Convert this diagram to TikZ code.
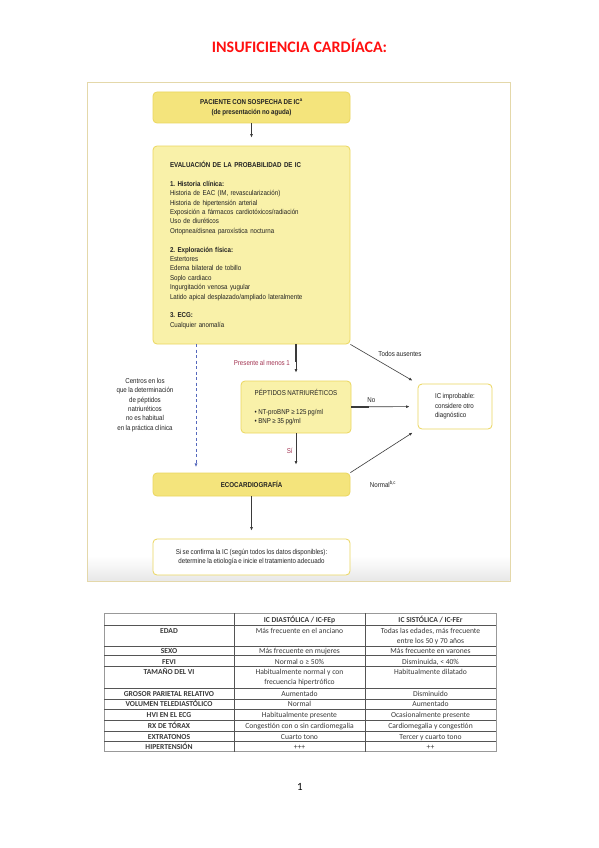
\documentclass[tikz,border=0pt]{standalone}
\usepackage{fontspec}
\setmainfont{Carlito}
\newfontfamily\flowfont[FakeStretch=0.87, WordSpace=0.85]{Liberation Sans}
\usetikzlibrary{arrows.meta}
\frenchspacing
\definecolor{titlered}{HTML}{FF1010}
\definecolor{boxyellow}{HTML}{F4E47C}
\definecolor{boxpale}{HTML}{F9F1A9}
\definecolor{boxedge}{HTML}{EBD65E}
\definecolor{framecol}{HTML}{E4D8AA}
\definecolor{arrowgray}{HTML}{3A3A3A}
\definecolor{labelred}{HTML}{A33452}
\definecolor{dashblue}{HTML}{5568BC}
\definecolor{flowtext}{HTML}{222222}
\definecolor{tabtext}{HTML}{3A3A3A}
\definecolor{tabrule}{HTML}{555555}
\newcommand{\flowtxt}{\flowfont\fontsize{7.1}{9.4}\selectfont}
\newcommand{\tabtxt}{\fontsize{7.6}{10}\selectfont}
\begin{document}
\begin{tikzpicture}[x=1pt, y=-1pt,
    box/.style={draw=boxedge, rounded corners=4pt, line width=0.8pt, inner sep=0pt, text=flowtext, font=\flowtxt},
    arr/.style={-{Latex[length=3.4pt,width=2.8pt]}, draw=arrowgray, line width=0.6pt, shorten >=8pt},
    stem/.style={draw=arrowgray, line width=1.5pt},
    lbl/.style={font=\flowtxt, text=flowtext, inner sep=0pt},
    cell/.style={font=\tabtxt, text=tabtext, inner sep=0pt, anchor=base},
    cell2/.style={font=\tabtxt, text=tabtext, inner sep=0pt, anchor=north, align=center}]
  \fill[white] (0,0) rectangle (599,848);
  \useasboundingbox (0,0) rectangle (599,848);

  \node[font=\fontsize{16}{18}\selectfont\bfseries, text=titlered] (titulo) at (299.5,46) {INSUFICIENCIA CARDÍACA:};

  \shade[top color=white, bottom color=black!9] (87.5,556) rectangle (509.5,580.5);
  \draw[framecol, line width=1pt] (87,83) rectangle (510,581);

  \node[box, fill=boxyellow, minimum width=197pt, minimum height=31pt, align=center, font=\flowtxt\bfseries] (paciente) at (251.5,107.5) {PACIENTE CON SOSPECHA DE IC\textsuperscript{a}\\[0.6pt](de presentación no aguda)};
  \node[box, fill=boxpale, minimum width=197pt, minimum height=198pt, text width=163pt, align=left] (evaluacion) at (251.5,245) {\textbf{EVALUACIÓN DE LA PROBABILIDAD DE IC}\\[9.4pt]
    \textbf{1. Historia clínica:}\\
    Historia de EAC (IM, revascularización)\\
    Historia de hipertensión arterial\\
    Exposición a fármacos cardiotóxicos/radiación\\
    Uso de diuréticos\\
    Ortopnea/disnea paroxística nocturna\\[9.4pt]
    \textbf{2. Exploración física:}\\
    Estertores\\
    Edema bilateral de tobillo\\
    Soplo cardiaco\\
    Ingurgitación venosa yugular\\
    Latido apical desplazado/ampliado lateralmente\\[9.4pt]
    \textbf{3. ECG:}\\
    Cualquier anomalía};
  \node[box, fill=boxpale, minimum width=110pt, minimum height=52pt, align=left] (peptidos) at (296,407) {PÉPTIDOS NATRIURÉTICOS\\[9.4pt]
    • NT-proBNP ≥ 125 pg/ml\\
    • BNP ≥ 35 pg/ml};
  \node[box, fill=white, minimum width=74pt, minimum height=45pt, align=left] (improbable) at (455,406.5) {IC improbable:\\considere otro\\diagnóstico};
  \node[box, fill=boxyellow, minimum width=197pt, minimum height=23pt, font=\flowtxt\bfseries] (eco) at (251.5,484.5) {ECOCARDIOGRAFÍA};
  \node[box, fill=white, minimum width=197pt, minimum height=36pt, align=center] (confirma) at (251.5,557) {Si se confirma la IC (según todos los datos disponibles):\\determine la etiología e inicie el tratamiento adecuado};

  \node[lbl, align=center] (centros) at (145,405) {Centros en los\\que la determinación\\de péptidos\\natriuréticos\\no es habitual\\en la práctica clínica};
  \node[lbl] (ausentes) at (400,354) {Todos ausentes};
  \node[lbl] (normal) at (383,484) {Normal\textsuperscript{b,c}};
  \coordinate (dashtop) at (196,344);
  \coordinate (dashend) at (196,473);

  \draw[stem] (paciente.south) -- ++(0,12);
  \draw[stem] (evaluacion.south -| peptidos.north) -- ++(0,18);
  \draw[stem] (peptidos.east) -- ++(18,0);
  \path (paciente) edge[arr] (evaluacion);
  \path (evaluacion.south -| peptidos.north) edge[arr] node[lbl, left=6pt, text=labelred] {Presente al menos 1} (peptidos.north);
  \path (peptidos.south) edge[arr] node[lbl, left=3pt, text=labelred, pos=0.45] {Sí} (peptidos.south |- eco.north);
  \path (peptidos) edge[arr] node[lbl, above=4pt, pos=0.3] {No} (improbable);
  \path (evaluacion.south east) edge[arr, shorten >=6pt] (improbable.north west);
  \path (eco.north east) edge[arr, shorten >=6pt] (improbable.south west);
  \path (eco) edge[arr] (confirma);
  \path (dashtop) edge[-{Latex[length=3.6pt,width=3.2pt]}, draw=dashblue, line width=0.8pt, dash pattern=on 3pt off 2.5pt, shorten >=6pt] (dashend);

  \draw[black!40, line width=0.5pt] (104,613.3) rectangle (496,751.7);
  \draw[tabrule, line width=0.5pt] (104,625.7) -- (496,625.7) (104,646) -- (496,646) (104,655) -- (496,655)
    (104,688.3) -- (496,688.3) (104,699) -- (496,699) (104,709.3) -- (496,709.3)
    (104,731) -- (496,731) (104,741.7) -- (496,741.7);
  \draw[tabrule, line width=0.9pt] (104,666.7) -- (496,666.7) (104,720.7) -- (496,720.7);
  \draw[tabrule, line width=1pt] (234,613.3) -- (234,751.7) (365,613.3) -- (365,751.7);

  \node[cell, font=\tabtxt\bfseries] (diastolica) at (299.5,622.5) {IC DIASTÓLICA / IC-FEp};
  \node[cell, font=\tabtxt\bfseries] (sistolica) at (430.5,622.5) {IC SISTÓLICA / IC-FEr};
  \node[cell, font=\tabtxt\bfseries] (edad) at (169,633.5) {EDAD};
  \node[cell] (edad d) at (299.5,633.5) {Más frecuente en el anciano};
  \node[cell2] (edad s) at (430.5,628) {Todas las edades, más frecuente\\entre los 50 y 70 años};
  \node[cell, font=\tabtxt\bfseries] (sexo) at (169,653.5) {SEXO};
  \node[cell] (sexo d) at (299.5,653.5) {Más frecuente en mujeres};
  \node[cell] (sexo s) at (430.5,653.5) {Más frecuente en varones};
  \node[cell, font=\tabtxt\bfseries] (fevi) at (169,664) {FEVI};
  \node[cell] (fevi d) at (299.5,664) {Normal o ≥ 50\%};
  \node[cell] (fevi s) at (430.5,664) {Disminuida, < 40\%};
  \node[cell, font=\tabtxt\bfseries] (tamano) at (169,674.5) {TAMAÑO DEL VI};
  \node[cell2] (tamano d) at (299.5,669) {Habitualmente normal y con\\frecuencia hipertrófico};
  \node[cell] (tamano s) at (430.5,674.5) {Habitualmente dilatado};
  \node[cell, font=\tabtxt\bfseries] (grosor) at (169,696.5) {GROSOR PARIETAL RELATIVO};
  \node[cell] (grosor d) at (299.5,696.5) {Aumentado};
  \node[cell] (grosor s) at (430.5,696.5) {Disminuido};
  \node[cell, font=\tabtxt\bfseries] (volumen) at (169,706.5) {VOLUMEN TELEDIASTÓLICO};
  \node[cell] (volumen d) at (299.5,706.5) {Normal};
  \node[cell] (volumen s) at (430.5,706.5) {Aumentado};
  \node[cell, font=\tabtxt\bfseries] (hvi) at (169,717.5) {HVI EN EL ECG};
  \node[cell] (hvi d) at (299.5,717.5) {Habitualmente presente};
  \node[cell] (hvi s) at (430.5,717.5) {Ocasionalmente presente};
  \node[cell, font=\tabtxt\bfseries] (rx) at (169,728.5) {RX DE TÓRAX};
  \node[cell] (rx d) at (299.5,728.5) {Congestión con o sin cardiomegalia};
  \node[cell] (rx s) at (430.5,728.5) {Cardiomegalia y congestión};
  \node[cell, font=\tabtxt\bfseries] (extratonos) at (169,739.5) {EXTRATONOS};
  \node[cell] (extratonos d) at (299.5,739.5) {Cuarto tono};
  \node[cell] (extratonos s) at (430.5,739.5) {Tercer y cuarto tono};
  \node[cell, font=\tabtxt\bfseries] (hipertension) at (169,749.5) {HIPERTENSIÓN};
  \node[cell] (hipertension d) at (299.5,749.5) {+++};
  \node[cell] (hipertension s) at (430.5,749.5) {++};

  \node[font=\fontsize{11}{13}\selectfont] (pagina) at (300,787) {1};
\end{tikzpicture}
\end{document}
